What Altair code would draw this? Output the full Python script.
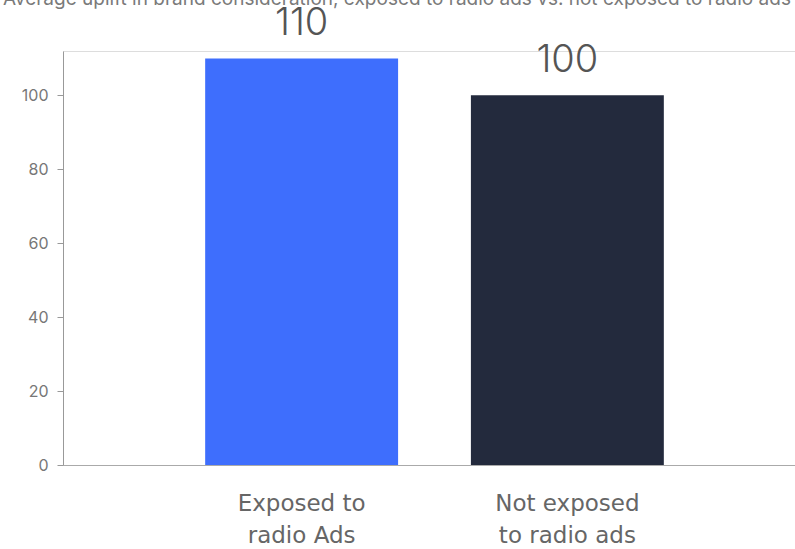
import altair as alt
import pandas as pd

TITLE = "Average uplift in brand consideration, exposed to radio ads vs. not exposed to radio ads"
categories = ["Exposed to\nradio Ads", "Not exposed\nto radio ads"]
values = [110, 100]
colors = ["#3E6EFD", "#232A3D"]
y_ticks = [0, 20, 40, 60, 80, 100]

df = pd.DataFrame({"cat": categories, "val": values, "color": colors})

x = alt.X("cat:N", sort=categories, title=None,
          scale=alt.Scale(paddingInner=0.274, paddingOuter=0.535, range=[0, 743]),
          axis=alt.Axis(labelAngle=0, ticks=False, domainColor="#aaaaaa",
                        labelExpr="split(datum.label, '\\n')",
                        labelFont="DejaVu Sans", labelFontSize=23, labelColor="#666666",
                        labelLineHeight=32, labelPadding=45, labelBaseline="alphabetic"))
y = alt.Y("val:Q", title=None,
          scale=alt.Scale(domain=[0, 112], nice=False),
          axis=alt.Axis(values=y_ticks, grid=False, domainColor="#999999",
                        tickColor="#999999", tickSize=6, labelFont="Inter",
                        labelFontSize=16, labelColor="#777777", labelPadding=9))

bars = alt.Chart(df).mark_bar().encode(
    x=x, y=y, color=alt.Color("color:N", scale=None)
)

labels = alt.Chart(df).mark_text(
    dy=-23, baseline="alphabetic", font="Inter", fontWeight=300,
    fontSize=38, color="#555555"
).encode(x=alt.X("cat:N", sort=categories), y="val:Q", text="val:Q")

title = alt.Chart(pd.DataFrame({"t": [TITLE]})).mark_text(
    align="left", baseline="alphabetic", font="Inter", fontSize=19, color="#7a7a7a"
).encode(x=alt.value(-60), y=alt.value(-46), text="t:N")

chart = alt.layer(bars, labels, title).properties(
    width=732, height=414,
    autosize=alt.AutoSizeParams(type="none"),
    padding={"left": 63, "top": 51, "right": 0, "bottom": 84},
).configure_view(stroke=None).configure(background="white")

chart.save("out.html", embed_options={"renderer": "svg", "actions": False})
